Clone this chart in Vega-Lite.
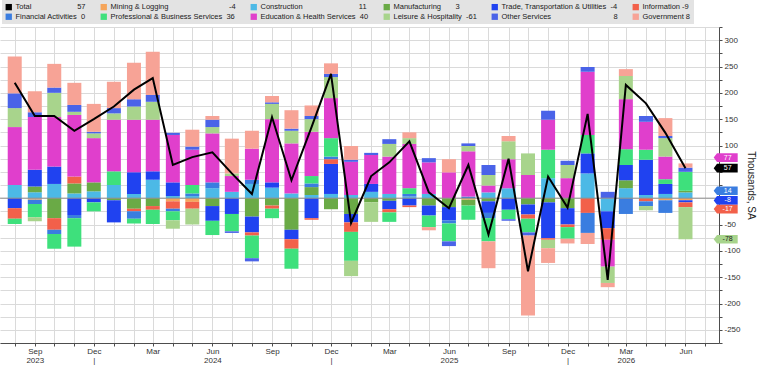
{
  "$schema": "https://vega.github.io/schema/vega-lite/v6.json",
  "width": 719,
  "height": 316,
  "autosize": {"type": "none"},
  "padding": {"left": 0, "top": 27, "right": 41, "bottom": 23},
  "background": "#ffffff",
  "config": {
    "font": "Liberation Sans",
    "view": {"stroke": null}
  },
  "datasets": {
    "payrolls": [
      {"month": "2023-08-01T00:00", "Total": 219, "Construction": 25, "Trade, Transportation & Utilities": -19, "Information": -20, "Professional & Business Services": -10, "Education & Health Services": 110, "Leisure & Hospitality": 36, "Other Services": 28, "Government": 70},
      {"month": "2023-09-01T00:00", "Total": 156, "Mining & Logging": -3, "Construction": 11, "Manufacturing": 11, "Trade, Transportation & Utilities": 32, "Financial Activities": -8, "Professional & Business Services": -25, "Education & Health Services": 100, "Leisure & Hospitality": -8, "Other Services": 9, "Government": 40},
      {"month": "2023-10-01T00:00", "Total": 156, "Construction": 27, "Manufacturing": -38, "Trade, Transportation & Utilities": 33, "Information": -22, "Financial Activities": -8, "Professional & Business Services": -28, "Education & Health Services": 94, "Leisure & Hospitality": 46, "Other Services": 10, "Government": 45},
      {"month": "2023-11-01T00:00", "Total": 128, "Construction": 9, "Manufacturing": 19, "Trade, Transportation & Utilities": -32, "Information": 13, "Financial Activities": -6, "Professional & Business Services": -54, "Education & Health Services": 117, "Leisure & Hospitality": 6, "Other Services": 13, "Government": 42},
      {"month": "2023-12-01T00:00", "Total": 150, "Construction": 13, "Manufacturing": 17, "Trade, Transportation & Utilities": -8, "Professional & Business Services": -17, "Education & Health Services": 84, "Leisure & Hospitality": 9, "Other Services": 3, "Government": 53},
      {"month": "2024-01-01T00:00", "Total": 174, "Construction": 25, "Manufacturing": -4, "Trade, Transportation & Utilities": -42, "Professional & Business Services": 26, "Education & Health Services": 98, "Leisure & Hospitality": 12, "Other Services": 10, "Government": 50},
      {"month": "2024-02-01T00:00", "Total": 206, "Construction": 8, "Manufacturing": -20, "Trade, Transportation & Utilities": 41, "Information": -5, "Financial Activities": -14, "Professional & Business Services": -9, "Education & Health Services": 100, "Leisure & Hospitality": 25, "Other Services": 14, "Government": 69},
      {"month": "2024-03-01T00:00", "Total": 228, "Construction": 35, "Manufacturing": -15, "Trade, Transportation & Utilities": 16, "Information": -7, "Professional & Business Services": -27, "Education & Health Services": 98, "Leisure & Hospitality": 34, "Other Services": 13, "Government": 82},
      {"month": "2024-04-01T00:00", "Total": 63, "Mining & Logging": -6, "Construction": 4, "Trade, Transportation & Utilities": 26, "Information": -14, "Financial Activities": -5, "Professional & Business Services": -17, "Education & Health Services": 90, "Leisure & Hospitality": -16, "Other Services": 4},
      {"month": "2024-05-01T00:00", "Total": 78, "Mining & Logging": -7, "Construction": 4, "Information": -13, "Financial Activities": 5, "Professional & Business Services": 16, "Education & Health Services": 67, "Leisure & Hospitality": -30, "Other Services": 6, "Government": 32},
      {"month": "2024-06-01T00:00", "Total": 87, "Construction": 19, "Manufacturing": -15, "Trade, Transportation & Utilities": -28, "Financial Activities": 11, "Professional & Business Services": -27, "Education & Health Services": 93, "Leisure & Hospitality": 12, "Other Services": 14, "Government": 7},
      {"month": "2024-07-01T00:00", "Total": 47, "Construction": 12, "Trade, Transportation & Utilities": -30, "Professional & Business Services": -33, "Education & Health Services": 30, "Leisure & Hospitality": 5, "Other Services": -3, "Government": 66},
      {"month": "2024-08-01T00:00", "Total": 8, "Construction": 27, "Manufacturing": -35, "Trade, Transportation & Utilities": -30, "Information": -6, "Financial Activities": 8, "Professional & Business Services": -43, "Education & Health Services": 59, "Other Services": -6, "Government": 34},
      {"month": "2024-09-01T00:00", "Total": 154, "Construction": 20, "Manufacturing": -14, "Trade, Transportation & Utilities": 10, "Information": -6, "Professional & Business Services": -18, "Education & Health Services": 120, "Leisure & Hospitality": 29, "Other Services": 3, "Government": 12},
      {"month": "2024-10-01T00:00", "Total": 34, "Construction": 9, "Manufacturing": -60, "Trade, Transportation & Utilities": -18, "Information": -18, "Professional & Business Services": -38, "Education & Health Services": 95, "Leisure & Hospitality": 24, "Other Services": 4, "Government": 35},
      {"month": "2024-11-01T00:00", "Total": 135, "Construction": 6, "Manufacturing": 15, "Trade, Transportation & Utilities": -38, "Information": -3, "Financial Activities": 7, "Professional & Business Services": 14, "Education & Health Services": 84, "Leisure & Hospitality": 24, "Other Services": 6, "Government": 20},
      {"month": "2024-12-01T00:00", "Total": 236, "Construction": 8, "Manufacturing": -21, "Trade, Transportation & Utilities": 57, "Information": 9, "Financial Activities": 5, "Professional & Business Services": 35, "Education & Health Services": 76, "Leisure & Hospitality": 40, "Other Services": 6, "Government": 20},
      {"month": "2025-01-01T00:00", "Total": -47, "Construction": 6, "Manufacturing": -30, "Trade, Transportation & Utilities": -16, "Information": -18, "Professional & Business Services": -55, "Education & Health Services": 63, "Leisure & Hospitality": -29, "Other Services": 4, "Government": 26},
      {"month": "2025-02-01T00:00", "Total": 42, "Construction": 12, "Manufacturing": -8, "Trade, Transportation & Utilities": 15, "Education & Health Services": 55, "Leisure & Hospitality": -37, "Other Services": 4},
      {"month": "2025-03-01T00:00", "Total": 68, "Construction": 8, "Manufacturing": -5, "Trade, Transportation & Utilities": -16, "Information": -6, "Professional & Business Services": -18, "Education & Health Services": 71, "Leisure & Hospitality": 24, "Other Services": 9},
      {"month": "2025-04-01T00:00", "Total": 108, "Construction": 3, "Trade, Transportation & Utilities": -14, "Information": -3, "Financial Activities": 5, "Professional & Business Services": 11, "Education & Health Services": 84, "Leisure & Hospitality": 11, "Government": 11},
      {"month": "2025-05-01T00:00", "Total": 11, "Construction": 8, "Manufacturing": -14, "Trade, Transportation & Utilities": -19, "Professional & Business Services": -22, "Education & Health Services": 60, "Other Services": 8, "Government": -6},
      {"month": "2025-06-01T00:00", "Total": -19, "Manufacturing": -17, "Trade, Transportation & Utilities": -25, "Financial Activities": -6, "Professional & Business Services": -34, "Education & Health Services": 49, "Other Services": -9, "Government": 25},
      {"month": "2025-07-01T00:00", "Total": 63, "Mining & Logging": -3, "Manufacturing": -11, "Financial Activities": 3, "Professional & Business Services": -27, "Education & Health Services": 86, "Leisure & Hospitality": 10, "Other Services": 5},
      {"month": "2025-08-01T00:00", "Total": -69, "Construction": 11, "Manufacturing": -6, "Trade, Transportation & Utilities": -22, "Financial Activities": -10, "Professional & Business Services": -44, "Education & Health Services": 13, "Leisure & Hospitality": 20, "Other Services": 19, "Government": -51},
      {"month": "2025-09-01T00:00", "Total": 75, "Construction": 19, "Trade, Transportation & Utilities": -22, "Professional & Business Services": -18, "Education & Health Services": 55, "Leisure & Hospitality": 34, "Other Services": -3, "Government": 10},
      {"month": "2025-10-01T00:00", "Total": -139, "Manufacturing": -12, "Trade, Transportation & Utilities": -19, "Information": -8, "Professional & Business Services": -26, "Education & Health Services": 44, "Leisure & Hospitality": 41, "Other Services": -6, "Government": -152},
      {"month": "2025-11-01T00:00", "Total": 41, "Construction": 38, "Manufacturing": -8, "Trade, Transportation & Utilities": -68, "Information": -3, "Professional & Business Services": 54, "Education & Health Services": 57, "Leisure & Hospitality": -16, "Other Services": 17, "Government": -28},
      {"month": "2025-12-01T00:00", "Total": -18, "Manufacturing": -19, "Trade, Transportation & Utilities": -31, "Information": -5, "Professional & Business Services": -22, "Education & Health Services": 38, "Leisure & Hospitality": 25, "Other Services": 8, "Government": -9},
      {"month": "2026-01-01T00:00", "Total": 160, "Construction": 47, "Trade, Transportation & Utilities": 38, "Information": -28, "Financial Activities": -38, "Professional & Business Services": 35, "Education & Health Services": 120, "Other Services": 9, "Government": -21},
      {"month": "2026-02-01T00:00", "Total": -155, "Construction": -25, "Trade, Transportation & Utilities": -32, "Information": -22, "Education & Health Services": -51, "Leisure & Hospitality": -31, "Other Services": 12, "Government": -8},
      {"month": "2026-03-01T00:00", "Total": 215, "Construction": 19, "Manufacturing": 15, "Trade, Transportation & Utilities": 29, "Financial Activities": -30, "Professional & Business Services": 30, "Education & Health Services": 95, "Leisure & Hospitality": 44, "Government": 13},
      {"month": "2026-04-01T00:00", "Total": 180, "Construction": 6, "Trade, Transportation & Utilities": 67, "Information": -6, "Financial Activities": -9, "Professional & Business Services": 19, "Education & Health Services": 53, "Leisure & Hospitality": -8, "Other Services": 11},
      {"month": "2026-05-01T00:00", "Total": 124, "Mining & Logging": -4, "Construction": 8, "Trade, Transportation & Utilities": 19, "Financial Activities": -24, "Professional & Business Services": 9, "Education & Health Services": 43, "Leisure & Hospitality": 35, "Other Services": 4, "Government": 34},
      {"month": "2026-06-01T00:00", "Total": 57, "Mining & Logging": -4, "Construction": 11, "Manufacturing": 3, "Trade, Transportation & Utilities": -4, "Information": -9, "Financial Activities": 0, "Professional & Business Services": 36, "Leisure & Hospitality": -61, "Other Services": 8, "Government": 8}
    ],
    "tags": [
      {"series": "Education & Health Services", "v": 77},
      {"series": "Total", "v": 57},
      {"series": "Financial Activities", "v": 14},
      {"series": "Trade, Transportation & Utilities", "v": -8},
      {"series": "Information", "v": -17},
      {"series": "Leisure & Hospitality", "v": -78}
    ]
  },
  "layer": [
    {
      "data": {"name": "payrolls"},
      "transform": [
        {"fold": ["Mining & Logging", "Construction", "Manufacturing", "Trade, Transportation & Utilities", "Information", "Financial Activities", "Professional & Business Services", "Education & Health Services", "Leisure & Hospitality", "Other Services", "Government"], "as": ["series", "value"]},
        {"filter": "isValid(datum.value)"},
        {"calculate": "indexof(['Mining & Logging', 'Construction', 'Manufacturing', 'Trade, Transportation & Utilities', 'Information', 'Financial Activities', 'Professional & Business Services', 'Education & Health Services', 'Leisure & Hospitality', 'Other Services', 'Government'], datum.series)", "as": "ord"}
      ],
      "mark": {"type": "bar", "size": 14, "strokeWidth": 0},
      "encoding": {
        "x": {
          "field": "month", "type": "temporal", "title": null,
          "scale": {"domain": [{"year": 2023, "month": 7, "date": 17}, {"year": 2026, "month": 7, "date": 15}], "nice": false},
          "axis": {
            "title": null,
            "tickCount": {"interval": "month", "step": 1},
            "grid": true, "gridColor": "#dadada", "gridWidth": 1,
            "domainColor": "#4d4d4d", "tickColor": "#4d4d4d", "tickSize": 3,
            "labelFontSize": 8, "labelColor": "#333333", "labelPadding": 1, "labelLineHeight": 9,
            "labelOverlap": false, "labelFlush": false, "labelBound": false,
            "labelExpr": "month(datum.value) % 3 == 2 ? [timeFormat(datum.value, '%b'), indexof(['2023-09', '2024-06', '2025-06', '2026-03'], timeFormat(datum.value, '%Y-%m')) >= 0 ? timeFormat(datum.value, '%Y') : (month(datum.value) == 11 ? '|' : '')] : ''"
          }
        },
        "y": {
          "field": "value", "type": "quantitative", "stack": "zero", "title": "Thousands, SA",
          "scale": {"domain": [-275, 325], "nice": false, "zero": false},
          "axis": {
            "orient": "right", "title": "Thousands, SA",
            "values": [-275, -250, -225, -200, -175, -150, -125, -100, -75, -50, -25, 0, 25, 50, 75, 100, 125, 150, 175, 200, 225, 250, 275, 300, 325],
            "tickCount": 40,
            "labelExpr": "datum.value % 50 == 0 && datum.value != 0 && datum.value != 50 ? '' + datum.value : ''",
            "grid": true, "gridColor": "#dadada", "gridWidth": 1,
            "domainColor": "#4d4d4d", "tickColor": "#4d4d4d", "tickSize": 3,
            "labelFontSize": 8, "labelColor": "#333333", "labelPadding": 2, "labelOverlap": false,
            "titleFontSize": 10, "titleFontWeight": "normal", "titleColor": "#222222", "titlePadding": 5
          }
        },
        "color": {
          "field": "series", "type": "nominal",
          "scale": {
            "domain": ["Total", "Mining & Logging", "Construction", "Manufacturing", "Trade, Transportation & Utilities", "Information", "Financial Activities", "Professional & Business Services", "Education & Health Services", "Leisure & Hospitality", "Other Services", "Government"],
            "range": ["#000000", "#f5a55b", "#4cb9e6", "#6aaa46", "#2042f0", "#f2604a", "#3a7de0", "#3ee07c", "#e03fcc", "#a8d48c", "#4a63e8", "#f7a396"]
          },
          "legend": {
            "orient": "none", "legendX": 2, "legendY": -27, "direction": "horizontal", "columns": 6,
            "title": null, "symbolType": "square", "symbolSize": 40, "symbolStrokeWidth": 0,
            "labelFontSize": 7.5, "labelColor": "#1a1a1a", "labelOffset": 3, "labelLimit": 220,
            "rowPadding": 1, "columnPadding": 14, "padding": 3, "fillColor": "#e3e3e3",
            "labelExpr": "datum.label + pad('', [22, 29, 27, 7, 2, 1, 2, 2, 2, 2, 30, 1][indexof(['Total', 'Mining & Logging', 'Construction', 'Manufacturing', 'Trade, Transportation & Utilities', 'Information', 'Financial Activities', 'Professional & Business Services', 'Education & Health Services', 'Leisure & Hospitality', 'Other Services', 'Government'], datum.label)], '\u00a0') + ['57', '-4', '11', '3', '-4', '-9', '0', '36', '40', '-61', '8', '8'][indexof(['Total', 'Mining & Logging', 'Construction', 'Manufacturing', 'Trade, Transportation & Utilities', 'Information', 'Financial Activities', 'Professional & Business Services', 'Education & Health Services', 'Leisure & Hospitality', 'Other Services', 'Government'], datum.label)]"
          }
        },
        "order": {"field": "ord", "type": "quantitative", "sort": "ascending"}
      }
    },
    {
      "data": {"values": [{}]},
      "mark": {"type": "rule", "color": "#8f8f8f", "strokeWidth": 1},
      "encoding": {
        "y": {"datum": 0, "type": "quantitative", "title": "Thousands, SA", "scale": {"domain": [-275, 325], "nice": false, "zero": false}}
      }
    },
    {
      "data": {"name": "payrolls"},
      "mark": {"type": "line", "color": "#000000", "strokeWidth": 2},
      "encoding": {
        "x": {"field": "month", "type": "temporal", "title": null, "scale": {"domain": [{"year": 2023, "month": 7, "date": 17}, {"year": 2026, "month": 7, "date": 15}], "nice": false}},
        "y": {"field": "Total", "type": "quantitative", "title": "Thousands, SA", "scale": {"domain": [-275, 325], "nice": false, "zero": false}}
      }
    },
    {
      "data": {"name": "tags"},
      "transform": [{"filter": "datum.series != 'Trade, Transportation & Utilities' && datum.series != 'Information'"}],
      "encoding": {
        "x": {"datum": {"year": 2026, "month": 8, "date": 2}, "type": "temporal", "title": null, "scale": {"domain": [{"year": 2023, "month": 7, "date": 17}, {"year": 2026, "month": 7, "date": 15}], "nice": false}},
        "y": {"field": "v", "type": "quantitative", "title": "Thousands, SA", "scale": {"domain": [-275, 325], "nice": false, "zero": false}}
      },
      "layer": [
        {
          "mark": {"type": "point", "shape": "M-1,0L-0.72,-0.36L1,-0.36L1,0.36L-0.72,0.36Z", "size": 576, "filled": true, "opacity": 1, "strokeWidth": 0},
          "encoding": {"color": {"field": "series", "type": "nominal", "legend": null}}
        },
        {
          "mark": {"type": "text", "fontSize": 7, "align": "center", "baseline": "middle", "dx": 2},
          "encoding": {
            "text": {"field": "v", "type": "nominal"},
            "color": {"condition": {"test": "datum.series == 'Leisure & Hospitality'", "value": "#1a1a1a"}, "value": "#ffffff"}
          }
        }
      ]
    },
    {
      "data": {"name": "tags"},
      "transform": [{"filter": "datum.series == 'Trade, Transportation & Utilities'"}],
      "encoding": {
        "x": {"datum": {"year": 2026, "month": 8, "date": 2}, "type": "temporal", "title": null, "scale": {"domain": [{"year": 2023, "month": 7, "date": 17}, {"year": 2026, "month": 7, "date": 15}], "nice": false}},
        "y": {"field": "v", "type": "quantitative", "title": "Thousands, SA", "scale": {"domain": [-275, 325], "nice": false, "zero": false}}
      },
      "layer": [
        {
          "mark": {"type": "point", "shape": "M-1,0L-0.72,-0.36L1,-0.36L1,0.36L-0.72,0.36Z", "size": 576, "filled": true, "opacity": 1, "strokeWidth": 0, "yOffset": -2},
          "encoding": {"color": {"field": "series", "type": "nominal", "legend": null}}
        },
        {
          "mark": {"type": "text", "fontSize": 7, "align": "center", "baseline": "middle", "dx": 2, "yOffset": -2, "color": "#ffffff"},
          "encoding": {"text": {"field": "v", "type": "nominal"}}
        }
      ]
    },
    {
      "data": {"name": "tags"},
      "transform": [{"filter": "datum.series == 'Information'"}],
      "encoding": {
        "x": {"datum": {"year": 2026, "month": 8, "date": 2}, "type": "temporal", "title": null, "scale": {"domain": [{"year": 2023, "month": 7, "date": 17}, {"year": 2026, "month": 7, "date": 15}], "nice": false}},
        "y": {"field": "v", "type": "quantitative", "title": "Thousands, SA", "scale": {"domain": [-275, 325], "nice": false, "zero": false}}
      },
      "layer": [
        {
          "mark": {"type": "point", "shape": "M-1,0L-0.72,-0.36L1,-0.36L1,0.36L-0.72,0.36Z", "size": 576, "filled": true, "opacity": 1, "strokeWidth": 0, "yOffset": 2},
          "encoding": {"color": {"field": "series", "type": "nominal", "legend": null}}
        },
        {
          "mark": {"type": "text", "fontSize": 7, "align": "center", "baseline": "middle", "dx": 2, "yOffset": 2, "color": "#ffffff"},
          "encoding": {"text": {"field": "v", "type": "nominal"}}
        }
      ]
    }
  ]
}
